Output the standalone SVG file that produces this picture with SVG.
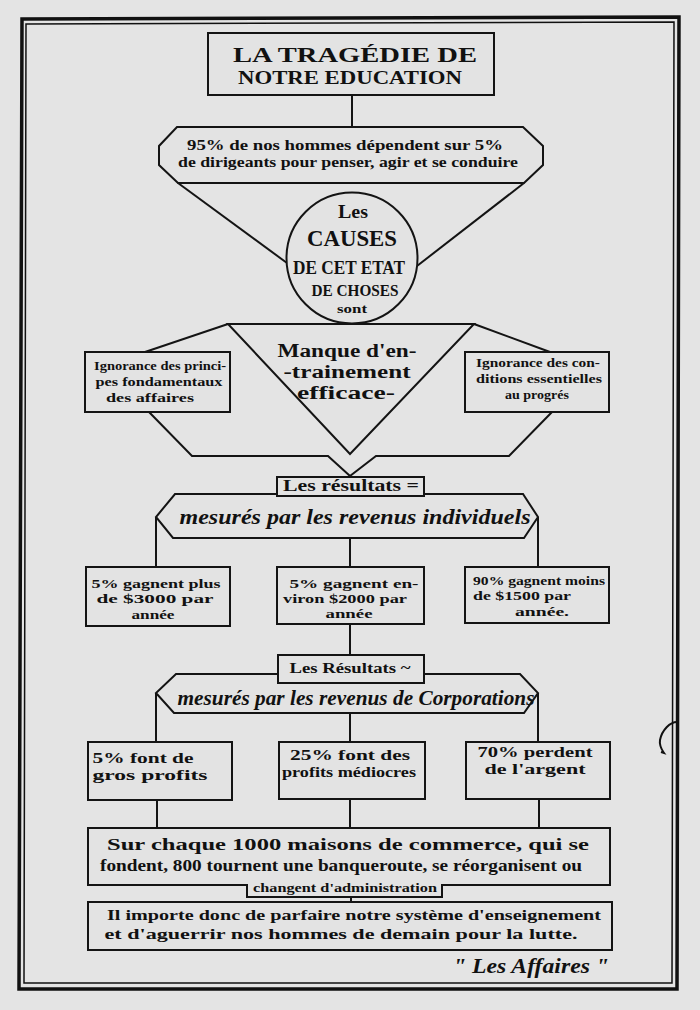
<svg xmlns="http://www.w3.org/2000/svg" width="700" height="1010" viewBox="0 0 700 1010">
<style>
.ln{fill:none;stroke:#141414;stroke-width:2;stroke-linejoin:miter}
.bx{fill:#e3e3e3;stroke:#141414;stroke-width:2}
.t{font-family:"Liberation Serif","DejaVu Serif",serif;font-weight:bold;fill:#111;text-anchor:middle}
.i{font-family:"Liberation Serif","DejaVu Serif",serif;font-weight:bold;font-style:italic;fill:#111;text-anchor:middle}
</style>
<rect x="0" y="0" width="700" height="1010" fill="#e4e4e4"/>
<g id="frame">
<polygon points="22,19 679,17 677,989 19,989" fill="none" stroke="#111" stroke-width="3.5"/>
<polygon points="26,24 674,22 672,983 24,983" fill="none" stroke="#111" stroke-width="1.5"/>
<path d="M677,722 C670,722 662,730 660,740 C659,746 662,750 664,753 l-3,-1" fill="none" stroke="#111" stroke-width="2"/>
</g>
<g id="connectors" class="ln">
<line x1="352" y1="95" x2="352" y2="127"/>
<line x1="178" y1="183" x2="287" y2="263"/>
<line x1="524" y1="183" x2="417" y2="266"/>
<line x1="228" y1="324" x2="145" y2="352"/>
<line x1="474" y1="324" x2="550" y2="352"/>
<polyline points="149,412 192,456 328,456 350,476"/>
<polyline points="552,412 509,456 376,456 350,476"/>
<line x1="350" y1="475" x2="350" y2="477"/>
<line x1="156" y1="517" x2="156" y2="567"/>
<line x1="538" y1="517" x2="538" y2="567"/>
<line x1="350" y1="538" x2="350" y2="567"/>
<line x1="350" y1="624" x2="350" y2="655"/>
<line x1="156" y1="693" x2="156" y2="742"/>
<line x1="538" y1="693" x2="538" y2="742"/>
<line x1="350" y1="713" x2="350" y2="742"/>
<line x1="157" y1="800" x2="157" y2="828"/>
<line x1="350" y1="799" x2="350" y2="828"/>
<line x1="539" y1="799" x2="539" y2="828"/>
<line x1="351" y1="897" x2="351" y2="902"/>
</g>
<g id="title">
<rect class="bx" x="208" y="33" width="286" height="62"/>
<text class="t" x="355" y="62" font-size="20" textLength="244" lengthAdjust="spacingAndGlyphs">LA TRAGÉDIE DE</text>
<text class="t" x="350" y="84" font-size="18" textLength="224" lengthAdjust="spacingAndGlyphs">NOTRE EDUCATION</text>
</g>
<g id="dependence">
<polygon class="bx" points="177,127 523,127 543,146 543,165 524,183 178,183 159,165 159,146"/>
<text class="t" x="345" y="150" font-size="15" textLength="316" lengthAdjust="spacingAndGlyphs">95% de nos hommes dépendent sur 5%</text>
<text class="t" x="348" y="167" font-size="15" textLength="340" lengthAdjust="spacingAndGlyphs">de dirigeants pour penser, agir et se conduire</text>
</g>
<g id="causes">
<circle class="bx" cx="352" cy="258" r="65.5"/>
<text class="t" x="353" y="218" font-size="19" textLength="30" lengthAdjust="spacingAndGlyphs">Les</text>
<text class="t" x="352" y="246" font-size="24" textLength="90" lengthAdjust="spacingAndGlyphs">CAUSES</text>
<text class="t" x="349" y="274" font-size="18" textLength="112" lengthAdjust="spacingAndGlyphs">DE CET ETAT</text>
<text class="t" x="355" y="296" font-size="17" textLength="87" lengthAdjust="spacingAndGlyphs">DE CHOSES</text>
<text class="t" x="352" y="313" font-size="12" textLength="30" lengthAdjust="spacingAndGlyphs">sont</text>
</g>
<g id="manque">
<polygon class="bx" points="228,324 474,324 350,454"/>
<text class="t" x="347" y="357" font-size="18" textLength="139" lengthAdjust="spacingAndGlyphs">Manque d'en-</text>
<text class="t" x="347" y="378" font-size="18" textLength="127" lengthAdjust="spacingAndGlyphs">-trainement</text>
<text class="t" x="346" y="399" font-size="18" textLength="98" lengthAdjust="spacingAndGlyphs">efficace-</text>
</g>
<g id="ignorance-principes">
<rect class="bx" x="85" y="352" width="145" height="60"/>
<text class="t" x="160" y="370" font-size="13" textLength="132" lengthAdjust="spacingAndGlyphs">Ignorance des princi-</text>
<text class="t" x="159" y="386" font-size="13" textLength="127" lengthAdjust="spacingAndGlyphs">pes fondamentaux</text>
<text class="t" x="150" y="402" font-size="13" textLength="88" lengthAdjust="spacingAndGlyphs">des affaires</text>
</g>
<g id="ignorance-conditions">
<rect class="bx" x="465" y="352" width="144" height="60"/>
<text class="t" x="538" y="367" font-size="13" textLength="124" lengthAdjust="spacingAndGlyphs">Ignorance des con-</text>
<text class="t" x="539" y="383" font-size="13" textLength="126" lengthAdjust="spacingAndGlyphs">ditions essentielles</text>
<text class="t" x="537" y="399" font-size="13" textLength="64" lengthAdjust="spacingAndGlyphs">au progrés</text>
</g>
<g id="revenus-individuels">
<polygon class="bx" points="175,494 523,494 538,517 524,538 173,538 156,517"/>
<text class="i" x="355" y="524" font-size="21" textLength="351" lengthAdjust="spacingAndGlyphs">mesurés par les revenus individuels</text>
</g>
<g id="resultats-1">
<rect class="bx" x="277" y="477" width="147" height="19"/>
<text class="t" x="351" y="491" font-size="16" textLength="136" lengthAdjust="spacingAndGlyphs">Les résultats =</text>
</g>
<g id="gagnent-plus">
<rect class="bx" x="86" y="567" width="144" height="59"/>
<text class="t" x="156" y="588" font-size="13" textLength="129" lengthAdjust="spacingAndGlyphs">5% gagnent plus</text>
<text class="t" x="155" y="603" font-size="13" textLength="117" lengthAdjust="spacingAndGlyphs">de $3000 par</text>
<text class="t" x="153" y="619" font-size="13" textLength="43" lengthAdjust="spacingAndGlyphs">année</text>
</g>
<g id="gagnent-environ">
<rect class="bx" x="277" y="567" width="147" height="57"/>
<text class="t" x="354" y="588" font-size="13" textLength="129" lengthAdjust="spacingAndGlyphs">5% gagnent en-</text>
<text class="t" x="345" y="603" font-size="13" textLength="124" lengthAdjust="spacingAndGlyphs">viron $2000 par</text>
<text class="t" x="349" y="618" font-size="13" textLength="47" lengthAdjust="spacingAndGlyphs">année</text>
</g>
<g id="gagnent-moins">
<rect class="bx" x="465" y="567" width="144" height="56"/>
<text class="t" x="539" y="585" font-size="13" textLength="132" lengthAdjust="spacingAndGlyphs">90% gagnent moins</text>
<text class="t" x="522" y="600" font-size="13" textLength="98" lengthAdjust="spacingAndGlyphs">de $1500 par</text>
<text class="t" x="542" y="616" font-size="13" textLength="54" lengthAdjust="spacingAndGlyphs">année.</text>
</g>
<g id="revenus-corporations">
<polygon class="bx" points="176,674 520,674 538,693 524,713 174,713 156,693"/>
<text class="i" x="356" y="705" font-size="21" textLength="357" lengthAdjust="spacingAndGlyphs">mesurés par les revenus de Corporations</text>
</g>
<g id="resultats-2">
<rect class="bx" x="278" y="655" width="146" height="28"/>
<text class="t" x="350" y="673" font-size="15" textLength="121" lengthAdjust="spacingAndGlyphs">Les Résultats ~</text>
</g>
<g id="gros-profits">
<rect class="bx" x="88" y="742" width="144" height="58"/>
<text class="t" x="143" y="763" font-size="14" textLength="101" lengthAdjust="spacingAndGlyphs">5% font de</text>
<text class="t" x="150" y="780" font-size="14" textLength="115" lengthAdjust="spacingAndGlyphs">gros profits</text>
</g>
<g id="profits-mediocres">
<rect class="bx" x="279" y="742" width="146" height="57"/>
<text class="t" x="350" y="760" font-size="14" textLength="120" lengthAdjust="spacingAndGlyphs">25% font des</text>
<text class="t" x="349" y="777" font-size="14" textLength="134" lengthAdjust="spacingAndGlyphs">profits médiocres</text>
</g>
<g id="perdent">
<rect class="bx" x="466" y="742" width="144" height="57"/>
<text class="t" x="535" y="757" font-size="14" textLength="115" lengthAdjust="spacingAndGlyphs">70% perdent</text>
<text class="t" x="535" y="774" font-size="14" textLength="101" lengthAdjust="spacingAndGlyphs">de l'argent</text>
</g>
<g id="maisons">
<path class="bx" d="M88,828 H610 V885 H442 V897 H247 V885 H88 Z"/>
<text class="t" x="348" y="850" font-size="17" textLength="482" lengthAdjust="spacingAndGlyphs">Sur chaque 1000 maisons de commerce, qui se</text>
<text class="t" x="341" y="871" font-size="17" textLength="482" lengthAdjust="spacingAndGlyphs">fondent, 800 tournent une banqueroute, se réorganisent ou</text>
<text class="t" x="345" y="892" font-size="12" textLength="184" lengthAdjust="spacingAndGlyphs">changent d'administration</text>
</g>
<g id="conclusion">
<rect class="bx" x="88" y="902" width="524" height="48"/>
<text class="t" x="354" y="920" font-size="15" textLength="494" lengthAdjust="spacingAndGlyphs">Il importe donc de parfaire notre système d'enseignement</text>
<text class="t" x="341" y="939" font-size="15" textLength="473" lengthAdjust="spacingAndGlyphs">et d'aguerrir nos hommes de demain pour la lutte.</text>
</g>
<g id="source">
<text class="i" x="531" y="973" font-size="20" textLength="156" lengthAdjust="spacingAndGlyphs">" Les Affaires "</text>
</g>
</svg>
